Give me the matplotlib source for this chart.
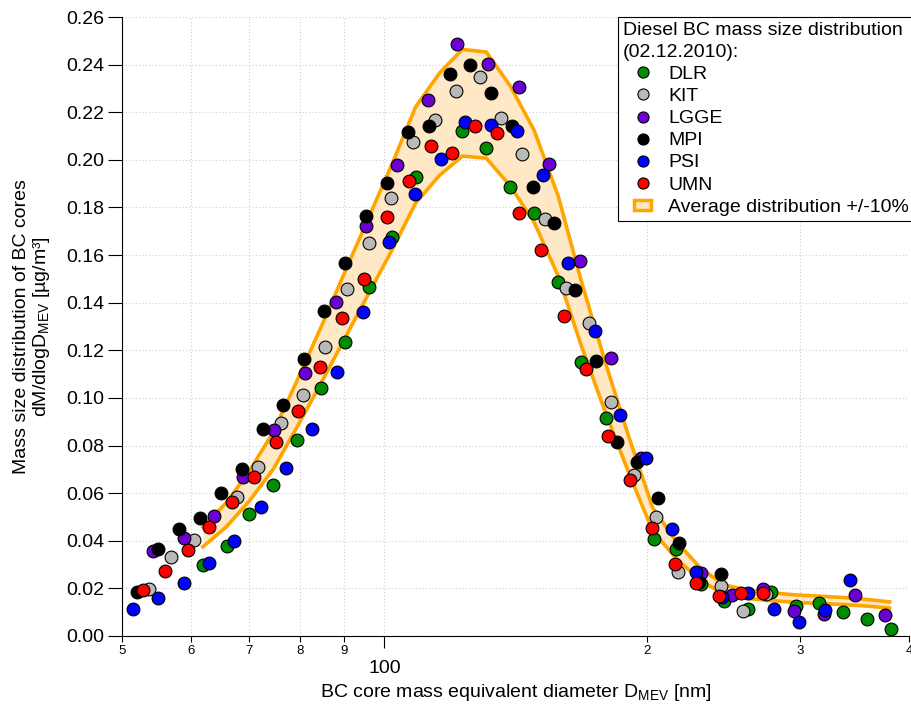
import numpy as np
import matplotlib
matplotlib.use("Agg")
import matplotlib.pyplot as plt
from matplotlib.lines import Line2D
from matplotlib.patches import Patch, Rectangle
from matplotlib.legend_handler import HandlerPatch
from matplotlib.ticker import FixedLocator, FixedFormatter, FormatStrFormatter

plt.rcParams['font.family'] = ['Liberation Sans', 'DejaVu Sans']
plt.rcParams['mathtext.fontset'] = 'custom'
plt.rcParams['mathtext.rm'] = 'Liberation Sans'
plt.rcParams['mathtext.it'] = 'Liberation Sans:italic'

# diameters [nm] and mass size distribution [ug/m3] per instrument
dlr_d = [61.9, 65.9, 70.0, 74.6, 79.4, 84.6, 90.1, 96.0, 102.0, 108.6, 122.9, 130.9, 139.5, 148.6,
         158.3, 168.1, 179.5, 203.7, 216.4, 231.1, 245.5, 261.6, 277.9, 296.8, 315.3, 335.8, 357.7, 381.0]
dlr_v = [0.0298, 0.0378, 0.0513, 0.0634, 0.0824, 0.1042, 0.1235, 0.1466, 0.1677, 0.1929, 0.2122, 0.2050,
         0.1887, 0.1777, 0.1487, 0.1151, 0.0916, 0.0408, 0.0366, 0.0218, 0.0147, 0.0113, 0.0185, 0.0126,
         0.0139, 0.0101, 0.0071, 0.0029]

kit_d = [53.7, 56.9, 60.4, 67.8, 71.7, 76.2, 80.7, 85.5, 90.6, 96.0, 101.7, 107.8, 114.2, 121.0, 128.6,
         136.2, 144.0, 152.9, 161.6, 171.7, 181.9, 193.3, 204.8, 217.0, 243.6, 258.1, 274.2]
kit_v = [0.0197, 0.0332, 0.0403, 0.0584, 0.0710, 0.0895, 0.1013, 0.1214, 0.1458, 0.1651, 0.1840, 0.2076,
         0.2168, 0.2290, 0.2349, 0.2176, 0.2025, 0.1752, 0.1462, 0.1315, 0.0983, 0.0676, 0.0500, 0.0269,
         0.0210, 0.0105, 0.0176]

lgge_d = [54.2, 58.9, 63.7, 68.9, 74.8, 81.1, 88.0, 95.3, 103.3, 112.1, 121.3, 131.6, 142.8, 154.5,
          167.7, 181.9, 196.9, 231.1, 250.8, 272.1, 295.2, 319.4, 346.5, 375.1]
lgge_v = [0.0357, 0.0412, 0.0504, 0.0668, 0.0866, 0.1105, 0.1403, 0.1723, 0.1979, 0.2252, 0.2487, 0.2403,
          0.2307, 0.1983, 0.1576, 0.1168, 0.0748, 0.0265, 0.0172, 0.0197, 0.0105, 0.0092, 0.0172, 0.0088]

mpi_d = [52.0, 55.0, 58.1, 61.4, 64.9, 68.6, 72.5, 76.6, 80.9, 85.3, 90.1, 95.3, 100.7, 106.4, 112.4,
         118.8, 125.5, 132.7, 140.2, 148.2, 156.6, 165.5, 174.9, 184.8, 194.8, 205.9, 217.6, 229.9, 243.6]
mpi_v = [0.0185, 0.0366, 0.0450, 0.0496, 0.0601, 0.0702, 0.0870, 0.0971, 0.1164, 0.1366, 0.1567, 0.1765,
         0.1903, 0.2118, 0.2143, 0.2361, 0.2399, 0.2282, 0.2143, 0.1887, 0.1735, 0.1454, 0.1155, 0.0815,
         0.0731, 0.0580, 0.0391, 0.0227, 0.0261]

psi_d = [51.5, 55.0, 58.9, 62.9, 67.3, 72.1, 77.2, 82.6, 88.3, 94.5, 101.2, 108.4, 116.0, 123.9, 132.7,
         142.1, 152.1, 162.5, 174.4, 186.3, 199.5, 213.6, 228.1, 244.3, 261.6, 280.1, 299.1, 320.3, 342.1]
psi_v = [0.0113, 0.0160, 0.0223, 0.0307, 0.0399, 0.0542, 0.0706, 0.0870, 0.1109, 0.1361, 0.1655, 0.1857,
         0.2004, 0.2160, 0.2147, 0.2122, 0.1937, 0.1567, 0.1282, 0.0929, 0.0748, 0.0450, 0.0269, 0.0164,
         0.0181, 0.0113, 0.0059, 0.0109, 0.0235]

umn_d = [52.8, 56.0, 59.5, 62.9, 66.8, 70.8, 75.2, 79.7, 84.4, 89.4, 94.7, 100.7, 106.7, 113.0, 119.7,
         127.2, 134.8, 142.8, 151.3, 160.8, 170.4, 180.5, 191.3, 202.7, 215.3, 228.1, 242.3, 256.8, 272.1]
umn_v = [0.0193, 0.0273, 0.0361, 0.0458, 0.0563, 0.0668, 0.0815, 0.0945, 0.1130, 0.1336, 0.1500, 0.1761,
         0.1912, 0.2059, 0.2029, 0.2143, 0.2113, 0.1777, 0.1622, 0.1345, 0.1122, 0.0840, 0.0655, 0.0454,
         0.0303, 0.0223, 0.0168, 0.0181, 0.0181]

# average distribution
avg_d = np.array([61.9, 65.9, 70.0, 74.6, 79.4, 84.6, 90.1, 96.0, 102.0, 108.6, 115.7, 122.9, 130.9, 139.5,
                  148.6, 158.3, 168.1, 179.1, 190.8, 203.2, 216.4, 230.5, 244.9, 260.9, 277.9, 296.0, 315.3,
                  335.8, 356.7, 380.0])
avg_v = np.array([0.0416, 0.051, 0.063, 0.078, 0.0975, 0.118, 0.139, 0.160, 0.180, 0.202, 0.215, 0.224,
                  0.223, 0.210, 0.193, 0.168, 0.136, 0.105, 0.076, 0.049, 0.036, 0.026, 0.0196, 0.0175,
                  0.0165, 0.0157, 0.0152, 0.0147, 0.0140, 0.0130])

instruments = ["DLR", "KIT", "LGGE", "MPI", "PSI", "UMN"]
colors = ["#008c00", "#b9b9b9", "#6a00d2", "#000000", "#0000ff", "#ff0000"]
data = [(dlr_d, dlr_v), (kit_d, kit_v), (lgge_d, lgge_v), (mpi_d, mpi_v), (psi_d, psi_v), (umn_d, umn_v)]

band_fill = "#ffe8c6"
band_edge = "#ffa500"

fig = plt.figure(figsize=(9.12, 7.06), dpi=100)
ax = fig.add_axes([0.1338, 0.0992, 0.9967 - 0.1338, 0.9759 - 0.0992])

ax.fill_between(avg_d, avg_v * 0.9, avg_v * 1.1, color=band_fill, lw=0, zorder=1)
ax.plot(avg_d, avg_v * 1.1, color=band_edge, lw=2.6, zorder=2)
ax.plot(avg_d, avg_v * 0.9, color=band_edge, lw=2.6, zorder=2)

for (d, v), c in zip(data, colors):
    ax.scatter(d, v, s=85, c=c, edgecolors='k', linewidths=0.8, zorder=3, clip_on=False)

ax.set_xscale('log')
ax.set_xlim(50, 400)
ax.set_ylim(0, 0.26)

ax.xaxis.set_major_locator(FixedLocator([100]))
ax.xaxis.set_major_formatter(FixedFormatter(['100']))
ax.xaxis.set_minor_locator(FixedLocator([50, 60, 70, 80, 90, 200, 300, 400]))
ax.xaxis.set_minor_formatter(FixedFormatter(['5', '6', '7', '8', '9', '2', '3', '4']))
ax.tick_params(axis='x', which='major', length=8.6, width=0.8, pad=9, labelsize=14)
ax.tick_params(axis='x', which='minor', length=4.3, width=0.8, pad=2.5, labelsize=9.5)

ax.set_yticks(np.arange(0, 0.2601, 0.02))
ax.yaxis.set_major_formatter(FormatStrFormatter('%.2f'))
ax.tick_params(axis='y', length=10, width=0.8, pad=3, labelsize=14)

for s in ['top', 'right']:
    ax.spines[s].set_visible(False)
for s in ['left', 'bottom']:
    ax.spines[s].set_linewidth(0.8)

ax.set_axisbelow(True)
ax.grid(True, which='both', axis='x', color='#cfcfcf', linestyle=(0, (1, 2)), lw=0.8)
ax.grid(True, which='major', axis='y', color='#cfcfcf', linestyle=(0, (1, 2)), lw=0.8)

ax.set_xlabel(r'BC core mass equivalent diameter D$_{\mathrm{MEV}}$ [nm]', fontsize=14, labelpad=3)
ax.set_ylabel('Mass size distribution of BC cores\n' + r'dM/dlogD$_{\mathrm{MEV}}$ [µg/m³]',
              fontsize=14, labelpad=10, linespacing=1.05)


def small_rect(legend, orig_handle, xdescent, ydescent, width, height, fontsize):
    w = 0.45 * width
    h = 0.7 * height
    return Rectangle((-xdescent + (width - w) / 2, -ydescent + (height - h) / 2), w, h)


handles = [Line2D([], [], marker='o', ls='none', markersize=8, markerfacecolor=c,
                  markeredgecolor='k', markeredgewidth=0.8) for c in colors]
handles.append(Patch(facecolor=band_fill, edgecolor=band_edge, linewidth=2.5))
labels = instruments + ["Average distribution +/-10%"]

leg = ax.legend(handles, labels, title="Diesel BC mass size distribution\n(02.12.2010):",
                loc='upper left', bbox_to_anchor=(0.6305, 1.0), borderaxespad=0,
                fontsize=14, title_fontsize=14, alignment='left', fancybox=False,
                edgecolor='k', framealpha=1, borderpad=0.25, handlelength=2.0,
                handletextpad=0.33, labelspacing=0.23,
                handler_map={Patch: HandlerPatch(patch_func=small_rect)})
leg.get_title().set_linespacing(1.4)
leg.get_frame().set_linewidth(0.8)
leg.set_zorder(5)

fig.savefig("out.png", dpi=100)
